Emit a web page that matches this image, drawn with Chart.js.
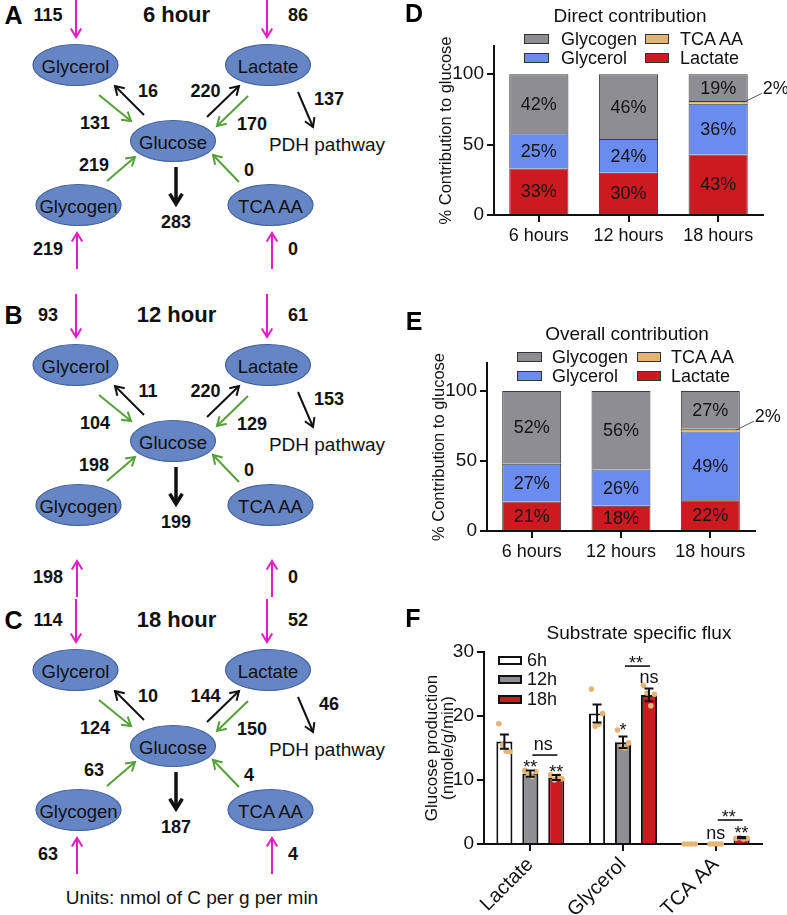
<!DOCTYPE html>
<html>
<head>
<meta charset="utf-8">
<script src="https://cdn.jsdelivr.net/npm/chart.js@4.4.1/dist/chart.umd.min.js"></script>
<style>
  body { margin: 0; background: #fff; }
  #page { position: relative; width: 787px; height: 915px; overflow: hidden;
          font-family: 'Liberation Sans', Arial, sans-serif; color: #111; }
  #page canvas, #page svg { position: absolute; }
  .lbl { position: absolute; white-space: nowrap; line-height: 1; transform: translate(-50%, -50%); }
  .lbl.left { transform: translate(0, -50%); }
  .box { position: absolute; box-sizing: border-box; }
</style>
</head>
<body>
<div id="page">
  <svg id="diagram" width="400" height="915" style="left:0;top:0"></svg>
  <canvas id="chartD" width="387" height="260" style="left:400px;top:0"></canvas>
  <canvas id="chartE" width="387" height="280" style="left:400px;top:280px"></canvas>
  <canvas id="chartF" width="387" height="355" style="left:400px;top:560px"></canvas>
  <canvas id="chartFdots" width="387" height="355" style="left:400px;top:560px"></canvas>
</div>
<script>
// ---- flux diagrams (A-C), nmol C / g / min
const panelLetters = ['A', 'B', 'C'];
const hourTitles = ['6 hour', '12 hour', '18 hour'];
const glycerolIn = [115, 93, 114];
const lactateIn = [86, 61, 52];
const glucoseToGlycerol = [16, 11, 10];
const glycerolToGlucose = [131, 104, 124];
const glucoseToLactate = [220, 220, 144];
const lactateToGlucose = [170, 129, 150];
const lactateToPDH = [137, 153, 46];
const glycogenToGlucose = [219, 198, 63];
const tcaToGlucose = [0, 0, 4];
const glucoseOut = [283, 199, 187];
const glycogenIn = [219, 198, 63];
const tcaIn = [0, 0, 4];

// ---- stacked bars (D, E), percent
const timeLabels = ['6 hours', '12 hours', '18 hours'];
const directLactate = [33, 30, 43];
const directGlycerol = [25, 24, 36];
const directTCA = [0, 0, 2];
const directGlycogen = [42, 46, 19];
const overallLactate = [21, 18, 22];
const overallGlycerol = [27, 26, 49];
const overallTCA = [0, 0, 2];
const overallGlycogen = [52, 56, 27];
const pctTicks = [0, 50, 100];

// ---- substrate flux (F), nmole/g/min
const substrates = ['Lactate', 'Glycerol', 'TCA AA'];
const timePoints = ['6h', '12h', '18h'];
const flux6h = [16.0, 20.4, 0];
const flux12h = [11.0, 15.9, 0];
const flux18h = [10.4, 23.3, 1.0];
const sem6h = [1.1, 1.4, 0];
const sem12h = [0.5, 0.9, 0];
const sem18h = [0.4, 1.0, 0.1];
const pts6h = [[18.8, 15.5, 14.5, 14.4], [24.2, 18.4, 18.7, 20.4], [0, 0, 0, 0]];
const pts12h = [[11.5, 10.8, 10.5, 11.3], [17.8, 15.2, 15.0, 15.8], [0, 0, 0, 0]];
const pts18h = [[10.8, 10.0, 10.6, 10.2], [24.8, 23.6, 21.6, 23.4], [0.9, 1.0, 0.8, 0.9]];
const fluxTicks = [0, 10, 20, 30];

const FONT = "'Liberation Sans', Arial, sans-serif";
const page = document.getElementById('page');

function addText(txt, x, y, css, left) {
  const d = document.createElement('div');
  d.className = left ? 'lbl left' : 'lbl';
  d.textContent = txt;
  d.style.left = x + 'px';
  d.style.top = y + 'px';
  d.style.cssText += css;
  page.appendChild(d);
}
function addBox(x, y, w, h, color, border) {
  const d = document.createElement('div');
  d.className = 'box';
  d.style.cssText = `left:${x}px;top:${y - h / 2}px;width:${w}px;height:${h}px;background:${color};border:${border};`;
  page.appendChild(d);
}

// ================= diagrams =================
const NS = 'http://www.w3.org/2000/svg';
const svg = document.getElementById('diagram');
function el(parent, tag, attrs, text) {
  const e = document.createElementNS(NS, tag);
  for (const k in attrs) e.setAttribute(k, attrs[k]);
  if (text !== undefined) e.textContent = text;
  parent.appendChild(e);
  return e;
}
function arrow(g, x1, y1, x2, y2, color, w, len) {
  const a = Math.atan2(y2 - y1, x2 - x1), s = 0.55;
  el(g, 'line', {x1, y1, x2, y2, stroke: color, 'stroke-width': w});
  const p1 = [x2 - len * Math.cos(a - s), y2 - len * Math.sin(a - s)];
  const p2 = [x2 - len * Math.cos(a + s), y2 - len * Math.sin(a + s)];
  el(g, 'polyline', {points: `${p1} ${x2},${y2} ${p2}`, fill: 'none', stroke: color, 'stroke-width': w});
}
function num(g, v, x, y) {
  el(g, 'text', {x, y, 'text-anchor': 'middle', 'dominant-baseline': 'central',
    'font-family': FONT, 'font-size': 18, 'font-weight': 'bold', fill: '#111'}, String(v));
}

const panelTop = [0, 300, 605];
const bottomShift = [0, 28, 0];
const MAG = '#E01EC4', GRN = '#55A03A', BLK = '#111';
const nodes = [['Glycerol', 75.5, 65], ['Lactate', 268, 65], ['Glucose', 173, 141],
               ['Glycogen', 78.5, 205], ['TCA AA', 270.5, 205]];

panelLetters.forEach((letter, p) => {
  const g = el(svg, 'g', {transform: `translate(0,${panelTop[p]})`});
  const b = bottomShift[p];
  el(g, 'text', {x: 13.5, y: 15, 'text-anchor': 'middle', 'dominant-baseline': 'central',
    'font-family': FONT, 'font-size': 25, 'font-weight': 'bold', fill: '#000'}, letter);
  el(g, 'text', {x: 176.5, y: 14, 'text-anchor': 'middle', 'dominant-baseline': 'central',
    'font-family': FONT, 'font-size': 22, 'font-weight': 'bold', fill: '#111'}, hourTitles[p]);

  nodes.forEach(([name, x, y]) => {
    el(g, 'ellipse', {cx: x, cy: y, rx: 42.5, ry: 20.5, fill: '#6685C4', stroke: '#41619E', 'stroke-width': 1.2});
    el(g, 'text', {x, y: y + 1, 'text-anchor': 'middle', 'dominant-baseline': 'central',
      'font-family': FONT, 'font-size': 18.5, fill: '#111'}, name);
  });

  // inputs
  arrow(g, 76, -6, 76, 37, MAG, 2, 10);
  arrow(g, 267, -6, 267, 37, MAG, 2, 10);
  arrow(g, 77, 269 + b, 77, 233 + b, MAG, 2, 10);
  arrow(g, 272, 269 + b, 272, 233 + b, MAG, 2, 10);
  // exchanges with glucose
  arrow(g, 144, 115, 115, 86, BLK, 2, 10);
  arrow(g, 99, 95, 131, 121, GRN, 2, 10);
  arrow(g, 207, 117, 239, 86, BLK, 2, 10);
  arrow(g, 248, 96, 217, 126, GRN, 2, 10);
  arrow(g, 298, 92, 313, 127, BLK, 2, 10);
  arrow(g, 107, 181, 135, 157, GRN, 2, 10);
  arrow(g, 239, 182, 213, 155, GRN, 2, 10);
  arrow(g, 176, 167, 176, 204, BLK, 3.5, 12);

  num(g, glycerolIn[p], 48, 14.5);
  num(g, lactateIn[p], 298, 14.5);
  num(g, glucoseToGlycerol[p], 148, 90.5);
  num(g, glycerolToGlucose[p], 95, 123);
  num(g, glucoseToLactate[p], 205.5, 90.5);
  num(g, lactateToGlucose[p], 252, 123.5);
  num(g, lactateToPDH[p], 329, 98.5);
  num(g, glycogenToGlucose[p], 94, 164.5);
  num(g, tcaToGlucose[p], 249, 169.5);
  num(g, glucoseOut[p], 176, 222);
  num(g, glycogenIn[p], 48, 249 + b);
  num(g, tcaIn[p], 293, 249 + b);
  el(g, 'text', {x: 327, y: 151, 'text-anchor': 'middle', 'font-family': FONT, 'font-size': 19, fill: '#111'}, 'PDH pathway');
});
el(svg, 'text', {x: 192, y: 904, 'text-anchor': 'middle', 'font-family': FONT, 'font-size': 19, fill: '#111'},
  'Units: nmol of C per g per min');

// ================= charts =================
Chart.defaults.font.family = FONT;
Chart.defaults.color = '#111';
Chart.defaults.animation = false;
Chart.defaults.plugins.legend.display = false;
Chart.defaults.plugins.tooltip.enabled = false;

const sourceNames = ['Lactate', 'Glycerol', 'TCA AA', 'Glycogen'];
const sourceColors = ['#CC1B20', '#6A8BF0', '#E2B474', '#8E8E92'];

const segmentLabels = {
  id: 'segmentLabels',
  afterDatasetsDraw(chart) {
    const ctx = chart.ctx;
    ctx.save();
    ctx.font = '18px ' + FONT;
    ctx.fillStyle = '#151515';
    ctx.textBaseline = 'middle';
    chart.data.datasets.forEach((ds, i) => {
      chart.getDatasetMeta(i).data.forEach((bar, j) => {
        const v = ds.data[j];
        const mid = (bar.y + bar.base) / 2;
        if (v >= 5) {
          ctx.textAlign = 'center';
          ctx.fillText(v + '%', bar.x, mid + 1);
        } else if (v > 0) {
          const right = bar.x + bar.width / 2;
          ctx.strokeStyle = '#555';
          ctx.lineWidth = 1;
          ctx.beginPath();
          ctx.moveTo(right - 4, mid);
          ctx.lineTo(right + 14, mid - 9);
          ctx.stroke();
          ctx.textAlign = 'left';
          ctx.fillText(v + '%', right + 15, mid - 13);
        }
      });
    });
    ctx.restore();
  }
};

function makeStack(id, series, pad, yWidth, xHeight) {
  return new Chart(id, {
    type: 'bar',
    data: {
      labels: timeLabels,
      datasets: series.map((data, i) => ({
        label: sourceNames[i], data,
        backgroundColor: sourceColors[i], borderColor: '#3a3a3a', borderWidth: 1,
        categoryPercentage: 1, barPercentage: 0.66
      }))
    },
    options: {
      responsive: false,
      layout: {padding: pad},
      scales: {
        x: {
          stacked: true,
          ticks: {font: {size: 18}, color: '#111', padding: 3},
          grid: {offset: false, drawOnChartArea: false, tickLength: 7, color: '#111', lineWidth: 2},
          border: {color: '#111', width: 2},
          afterFit: s => { s.height = xHeight; }
        },
        y: {
          stacked: true, min: 0, max: 120,
          afterBuildTicks: s => { s.ticks = pctTicks.map(v => ({value: v})); },
          ticks: {font: {size: 19}, color: '#111', padding: 3},
          grid: {drawOnChartArea: false, tickLength: 7, color: '#111', lineWidth: 2},
          border: {color: '#111', width: 2},
          title: {display: true, text: '% Contribution to glucose', font: {size: 16.5}, color: '#111',
                  padding: {top: 4, bottom: 0}},
          afterFit: s => { s.width = yWidth; }
        }
      }
    },
    plugins: [segmentLabels]
  });
}

makeStack('chartD', [directLactate, directGlycerol, directTCA, directGlycogen],
  {left: 33, top: 46, right: 24, bottom: 0}, 61, 45);
makeStack('chartE', [overallLactate, overallGlycerol, overallTCA, overallGlycogen],
  {left: 26, top: 83, right: 32, bottom: 0}, 61, 29);

// ---- panel F: bars on a category axis, replicate dots + error bars on a matching overlay
const fluxMeans = [flux6h, flux12h, flux18h];
const fluxSem = [sem6h, sem12h, sem18h];
const fluxPts = [pts6h, pts12h, pts18h];
const barFill = ['#ffffff', '#8F8F93', '#CC1B20'];
const slot = 0.84 / 3;
const jitter = [-0.06, -0.02, 0.02, 0.06];
const padF = {left: 84, top: 92, right: 25, bottom: 71};

const sigMarks = [
  {group: 0, bars: [1], value: 11.1, text: '**'},
  {group: 0, bars: [2], value: 10.3, text: '**'},
  {group: 0, bars: [1, 2], value: 14.7, text: 'ns', line: 13.9},
  {group: 1, bars: [1], value: 16.9, text: '*'},
  {group: 1, bars: [1, 2], value: 27.3, text: '**', line: 27.8},
  {group: 1, bars: [2], value: 25.1, text: 'ns'},
  {group: 2, bars: [1, 2], value: 3.3, text: '**', line: 3.75},
  {group: 2, bars: [1], value: 0.8, text: 'ns'},
  {group: 2, bars: [2], value: 0.8, text: '**'}
];
const barPos = (g, d) => g + (d - 1) * slot;

const errorBars = {
  id: 'errorBars',
  afterDatasetsDraw(chart) {
    const ctx = chart.ctx, x = chart.scales.x, y = chart.scales.y;
    ctx.save();
    ctx.strokeStyle = '#111';
    ctx.lineWidth = 2;
    fluxMeans.forEach((means, d) => {
      means.forEach((m, g) => {
        const e = fluxSem[d][g];
        if (!e) return;
        const px = x.getPixelForValue(barPos(g, d));
        const top = y.getPixelForValue(m + e), bot = y.getPixelForValue(m - e);
        ctx.beginPath();
        ctx.moveTo(px, top); ctx.lineTo(px, bot);
        ctx.moveTo(px - 4.5, top); ctx.lineTo(px + 4.5, top);
        ctx.moveTo(px - 4.5, bot); ctx.lineTo(px + 4.5, bot);
        ctx.stroke();
      });
    });
    ctx.fillStyle = '#111';
    ctx.textAlign = 'center';
    ctx.textBaseline = 'alphabetic';
    ctx.font = '18px ' + FONT;
    sigMarks.forEach(mk => {
      const xs = mk.bars.map(d => x.getPixelForValue(barPos(mk.group, d)));
      const cx = (xs[0] + xs[xs.length - 1]) / 2;
      ctx.fillText(mk.text, cx, y.getPixelForValue(mk.value));
      if (mk.line !== undefined) {
        const ly = y.getPixelForValue(mk.line);
        ctx.lineWidth = 1.6;
        ctx.beginPath();
        ctx.moveTo(xs[0] + 2, ly); ctx.lineTo(xs[xs.length - 1] + 1, ly);
        ctx.stroke();
      }
    });
    ctx.restore();
  }
};

new Chart('chartF', {
  type: 'bar',
  data: {
    labels: substrates,
    datasets: fluxMeans.map((data, d) => ({
      label: timePoints[d], data,
      backgroundColor: barFill[d], borderColor: '#111', borderWidth: 2,
      categoryPercentage: 0.84, barPercentage: 0.62
    }))
  },
  options: {
    responsive: false,
    layout: {padding: {left: 20, top: padF.top, right: padF.right, bottom: 0}},
    scales: {
      x: {
        ticks: {font: {size: 20}, color: '#111', maxRotation: 45, minRotation: 45, padding: 2},
        grid: {offset: false, drawOnChartArea: false, tickLength: 7, color: '#111', lineWidth: 2},
        border: {color: '#111', width: 2},
        afterFit: s => { s.height = padF.bottom; }
      },
      y: {
        min: 0, max: 30,
        afterBuildTicks: s => { s.ticks = fluxTicks.map(v => ({value: v})); },
        ticks: {font: {size: 19}, color: '#111', padding: 3},
        grid: {drawOnChartArea: false, tickLength: 7, color: '#111', lineWidth: 2},
        border: {color: '#111', width: 2},
        title: {display: true, text: ['Glucose production', '(nmole/g/min)'],
                font: {size: 17, lineHeight: 0.94}, color: '#111', padding: {top: 4, bottom: 0}},
        afterFit: s => { s.width = padF.left - 20; }
      }
    }
  }
});

new Chart('chartFdots', {
  type: 'scatter',
  data: {
    datasets: fluxPts.map((groups, d) => ({
      label: timePoints[d], clip: false,
      data: groups.flatMap((vals, g) => vals.map((v, k) => ({x: barPos(g, d) + jitter[k], y: v}))),
      pointRadius: 2.8, pointBackgroundColor: '#E3B675', pointBorderWidth: 0
    }))
  },
  options: {
    responsive: false,
    layout: {padding: padF},
    scales: {
      x: {type: 'linear', min: -0.5, max: 2.5, display: false},
      y: {min: 0, max: 30, display: false}
    }
  },
  plugins: [errorBars]
});

// ---- titles, letters, legends
const letterCss = 'font-size:25px;font-weight:bold;color:#000;';
addText('D', 414, 13, letterCss);
addText('E', 414, 321, letterCss);
addText('F', 413, 618, letterCss);
addText('Direct contribution', 630, 15, 'font-size:19px;');
addText('Overall contribution', 627, 333, 'font-size:19px;');
addText('Substrate specific flux', 639, 632, 'font-size:19px;');

function stackLegend(rowY, boxX1, boxX2, textX1, textX2) {
  const order = [[3, 0, 0], [2, 0, 1], [1, 1, 0], [0, 1, 1]]; // dataset, row, col
  order.forEach(([i, r, c]) => {
    addBox(c ? boxX2 : boxX1, rowY[r], c ? 24 : 25, 10, sourceColors[i], '1px solid #333');
    addText(sourceNames[i], c ? textX2 : textX1, rowY[r], 'font-size:18px;', true);
  });
}
stackLegend([39, 58], 524, 645, 561, 680);
stackLegend([357, 376], 517, 637, 552, 671);

timePoints.forEach((t, d) => {
  const y = [660, 679, 699][d];
  addBox(498, y, 24, 9, barFill[d], '2px solid #111');
  addText(t, 527, y, 'font-size:18px;', true);
});
</script>
</body>
</html>
